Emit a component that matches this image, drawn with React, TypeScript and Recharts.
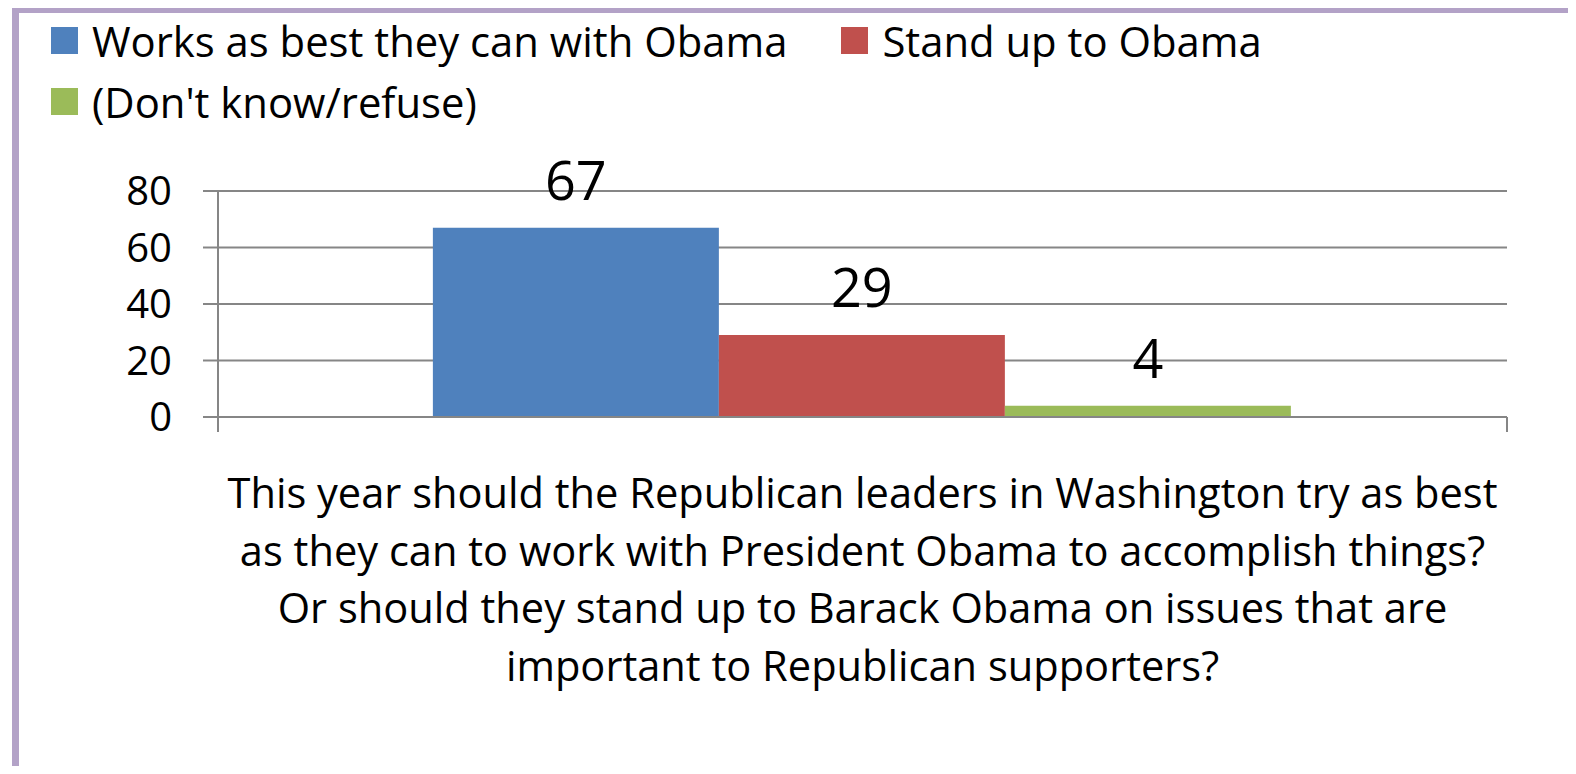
import React from 'react';
import * as R from 'recharts';
import { BarChart, Bar, XAxis, YAxis, CartesianGrid, Legend, LabelList } from 'recharts';

const categories = [
  'This year should the Republican leaders in Washington try as best as they can to work with President Obama to accomplish things? Or should they stand up to Barack Obama on issues that are important to Republican supporters?',
];
const questionLines = [
  'This year should the Republican leaders in Washington try as best',
  'as they can to work with President Obama to accomplish things?',
  'Or should they stand up to Barack Obama on issues that are',
  'important to Republican supporters?',
];
const seriesNames = ['Works as best they can with Obama', 'Stand up to Obama', "(Don't know/refuse)"];
const seriesKeys = ['works', 'standUp', 'dontKnow'];
const seriesColors = ['#4F81BD', '#C0504D', '#9BBB59'];
const worksValues = [67];
const standUpValues = [29];
const dontKnowValues = [4];
const yTicks = [0, 20, 40, 60, 80];

const data = categories.map((c, i) => ({
  category: c,
  works: worksValues[i],
  standUp: standUpValues[i],
  dontKnow: dontKnowValues[i],
}));

const FONT = '"Open Sans", Lato, sans-serif';
const GRID = '#868686';

const QuestionTick = (props: any) => {
  const { x, y } = props;
  return (
    <text x={x} y={y} textAnchor="middle" fontSize={41.6} fontFamily={FONT} fill="#000">
      {questionLines.map((l, i) => (
        <tspan key={i} x={x} dy={i === 0 ? 91 : 57.7}>
          {l}
        </tspan>
      ))}
    </text>
  );
};

const EdgeTicks = () => {
  const anyR = R as any;
  const area = anyR.usePlotArea ? anyR.usePlotArea() : null;
  if (!area) return null;
  const bottom = area.y + area.height;
  const xs = [area.x, area.x + area.width];
  return (
    <g>
      {xs.map((x, i) => (
        <line key={i} x1={x} x2={x} y1={bottom} y2={bottom + 15} stroke={GRID} strokeWidth={2} />
      ))}
    </g>
  );
};

const LegendContent = (props: any) => {
  const payload = [...(props.payload || [])].sort(
    (a: any, b: any) => seriesNames.indexOf(a.value) - seriesNames.indexOf(b.value)
  );
  return (
    <div
      style={{
        display: 'flex',
        flexWrap: 'wrap',
        width: 1300,
        columnGap: 54,
        fontFamily: FONT,
        fontSize: 41.8,
        color: '#000',
        lineHeight: 1,
      }}
    >
      {payload.map((p: any, i: number) => (
        <div key={i} style={{ display: 'flex', alignItems: 'center', height: 61, whiteSpace: 'nowrap' }}>
          <span style={{ display: 'inline-block', width: 27, height: 27, background: p.color, marginRight: 14 }} />
          <span>{p.value}</span>
        </div>
      ))}
    </div>
  );
};

export default function App() {
  return (
    <div
      style={{
        position: 'relative',
        width: 1576,
        height: 774,
        margin: -8,
        overflow: 'hidden',
        background: '#fff',
      }}
    >
      <div
        style={{
          position: 'absolute',
          left: 12,
          top: 7,
          width: 2000,
          height: 2000,
          borderLeft: '7px solid #B3A2C7',
          borderTop: '6px solid #B3A2C7',
        }}
      />
      <div style={{ position: 'absolute', left: 0, top: 0 }}>
        <BarChart
          width={1576}
          height={774}
          data={data}
          margin={{ top: 69, right: 69, bottom: 57, left: 0 }}
          barCategoryGap="16.67%"
          barGap={0}
        >
          <CartesianGrid horizontal={true} vertical={false} stroke={GRID} strokeWidth={2} />
          <XAxis
            dataKey="category"
            tick={<QuestionTick />}
            tickLine={false}
            tickSize={0}
            tickMargin={0}
            axisLine={{ stroke: GRID, strokeWidth: 2 }}
            height={300}
            interval={0}
          />
          <YAxis
            domain={[0, 80]}
            ticks={yTicks}
            width={218}
            tickSize={15}
            tickMargin={31}
            axisLine={{ stroke: GRID, strokeWidth: 2 }}
            tickLine={{ stroke: GRID, strokeWidth: 2 }}
            tick={{ fontSize: 40, fontFamily: FONT, fill: '#000' }}
          />
          <Legend verticalAlign="top" align="left" wrapperStyle={{ top: 10, left: 51, width: 1300 }} content={<LegendContent />} />
          {seriesKeys.map((k, i) => (
            <Bar key={k} dataKey={k} name={seriesNames[i]} fill={seriesColors[i]} isAnimationActive={false}>
              <LabelList dataKey={k} position="top" offset={28} fontSize={54} fontFamily={FONT} fill="#000" />
            </Bar>
          ))}
          <EdgeTicks />
        </BarChart>
      </div>
    </div>
  );
}
